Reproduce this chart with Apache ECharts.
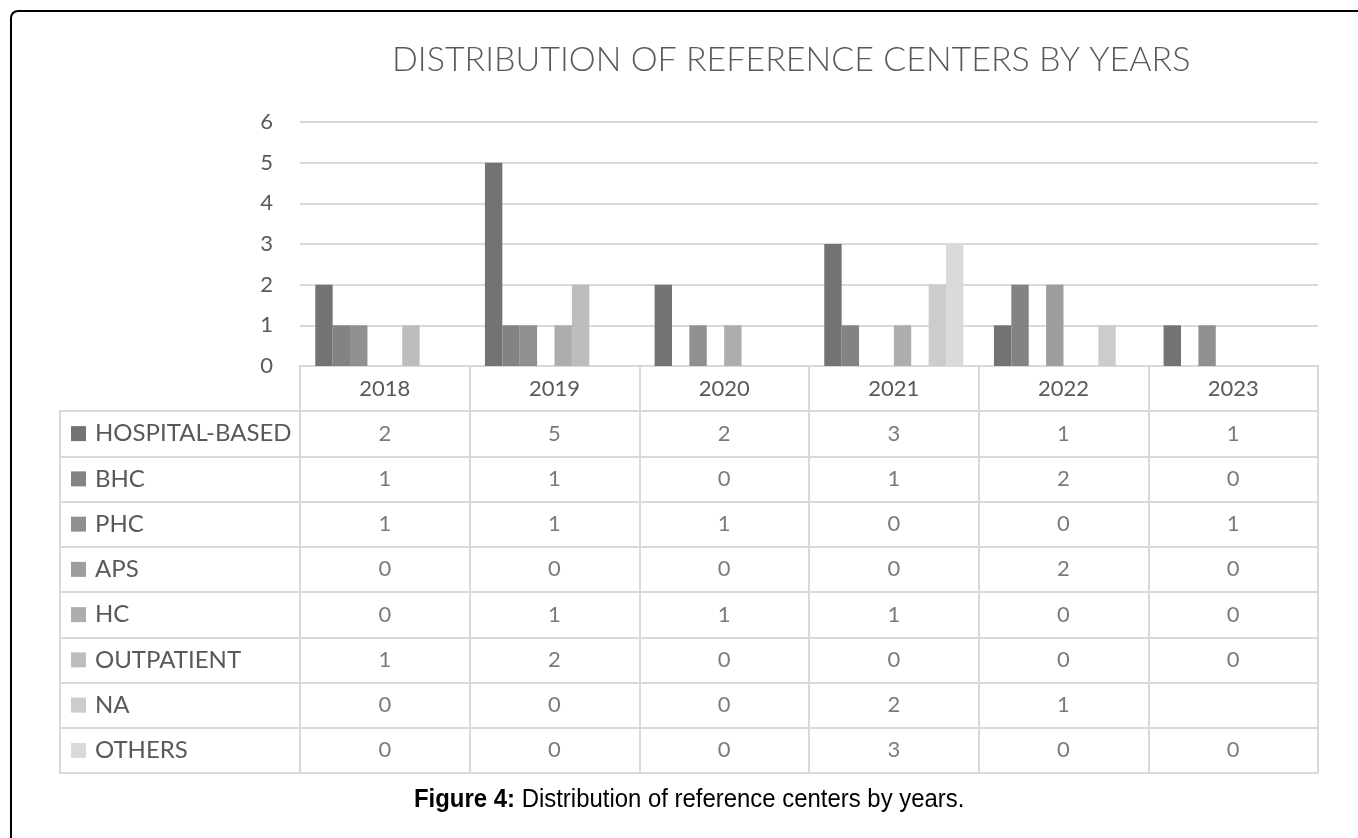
<!DOCTYPE html>
<html>
<head>
<meta charset="utf-8">
<title>Distribution of reference centers by years</title>
<script src="https://cdn.jsdelivr.net/npm/echarts@6/dist/echarts.min.js"></script>
<style>
  html, body { margin: 0; padding: 0; background: #fff; overflow: hidden; }
  #frame {
    position: absolute; left: 10px; top: 10px; width: 1400px; height: 900px;
    border-top: 2px solid #000; border-left: 2px solid #000;
    border-top-left-radius: 8px; box-sizing: border-box;
  }
  #chart { position: absolute; left: 0; top: 0; width: 1358px; height: 838px; }
</style>
</head>
<body>
<div id="frame"></div>
<div id="chart"></div>
<script>
// ---- data ----
var years = ['2018', '2019', '2020', '2021', '2022', '2023'];
var seriesNames = ['HOSPITAL-BASED', 'BHC', 'PHC', 'APS', 'HC', 'OUTPATIENT', 'NA', 'OTHERS'];
var hospitalBased = [2, 5, 2, 3, 1, 1];
var bhc = [1, 1, 0, 1, 2, 0];
var phc = [1, 1, 1, 0, 0, 1];
var aps = [0, 0, 0, 0, 2, 0];
var hc = [0, 1, 1, 1, 0, 0];
var outpatient = [1, 2, 0, 0, 0, 0];
var na = [0, 0, 0, 2, 1, null];
var others = [0, 0, 0, 3, 0, 0];
var yTicks = [0, 1, 2, 3, 4, 5, 6];

var seriesValues = [hospitalBased, bhc, phc, aps, hc, outpatient, na, others];
var colors = ['#737373', '#838383', '#909090', '#9e9e9e', '#adadad', '#bdbdbd', '#cccccc', '#dadada'];

var gridColor = '#d9d9d9';
var textColor = '#595959';
var font = 'Lato, "Open Sans", sans-serif';
var captionFont = '"Liberation Sans", Arial, sans-serif';

// 图例小方块（表格行标题）
var rich = { t: { fontSize: 24, color: textColor, fontFamily: font, padding: [0, 0, 0, 9] } };
colors.forEach(function (c, i) {
    rich['s' + i] = { width: 15, height: 15, backgroundColor: c };
});

// 柱状系列
var series = seriesNames.map(function (name, i) {
    return {
        name: name,
        type: 'bar',
        xAxisIndex: 0,
        yAxisIndex: 0,
        barGap: '0%',
        barCategoryGap: '18%',
        itemStyle: { color: colors[i] },
        data: seriesValues[i]
    };
});

// 数据表格文字
var tableData = [];
seriesValues.forEach(function (vals, r) {
    vals.forEach(function (v, c) {
        if (v !== null) tableData.push([years[c], seriesNames[r], v]);
    });
});
series.push({
    type: 'scatter',
    xAxisIndex: 1,
    yAxisIndex: 1,
    symbolSize: 0,
    silent: true,
    label: {
        show: true,
        position: 'inside',
        fontSize: 22,
        color: textColor,
        fontFamily: font,
        formatter: function (p) { return String(p.value[2]); }
    },
    data: tableData
});

var chart = echarts.init(document.getElementById('chart'));
chart.setOption({
    animation: false,
    backgroundColor: 'transparent',
    title: {
        text: 'DISTRIBUTION OF REFERENCE CENTERS BY YEARS',
        left: 387,
        top: 38,
        textStyle: { fontSize: 34, fontWeight: 300, color: textColor, fontFamily: font }
    },
    // 图注（窄体字，用横向缩放模拟）
    graphic: [{
        type: 'text',
        left: 414,
        top: 787,
        scaleX: 0.92,
        style: {
            text: '{b|Figure 4:}{n| Distribution of reference centers by years.}',
            rich: {
                b: { fontSize: 26, fontWeight: 'bold', fill: '#000', fontFamily: captionFont },
                n: { fontSize: 26, fontWeight: 'normal', fill: '#000', fontFamily: captionFont }
            }
        }
    }],
    grid: [
        { left: 300, right: 40, top: 122, height: 244 },
        { left: 300, right: 40, top: 411, height: 362 }
    ],
    xAxis: [{
        type: 'category',
        gridIndex: 0,
        data: years,
        axisLine: { show: true, lineStyle: { color: gridColor, width: 2 } },
        axisTick: { show: true, interval: 0, length: 45, lineStyle: { color: gridColor, width: 2 } },
        axisLabel: { margin: 12, fontSize: 22, color: textColor, fontFamily: font },
        splitLine: { show: false }
    }, {
        type: 'category',
        gridIndex: 1,
        data: years,
        position: 'top',
        axisLine: { show: true, lineStyle: { color: gridColor, width: 2 } },
        axisTick: { show: false },
        axisLabel: { show: false },
        splitLine: { show: true, interval: 0, lineStyle: { color: gridColor, width: 2 } }
    }],
    yAxis: [{
        type: 'value',
        gridIndex: 0,
        min: yTicks[0],
        max: yTicks[yTicks.length - 1],
        interval: 1,
        axisLine: { show: false },
        axisTick: { show: false },
        axisLabel: { margin: 27, fontSize: 22, color: textColor, fontFamily: font },
        splitLine: { show: true, lineStyle: { color: gridColor, width: 2 } }
    }, {
        type: 'category',
        gridIndex: 1,
        data: seriesNames,
        inverse: true,
        axisLine: { show: false },
        axisTick: { show: true, interval: 0, length: 240, lineStyle: { color: gridColor, width: 2 } },
        axisLabel: {
            align: 'left',
            margin: 229,
            formatter: function (v, i) { return '{s' + i + '|}{t|' + v + '}'; },
            rich: rich
        },
        splitLine: { show: true, interval: 0, lineStyle: { color: gridColor, width: 2 } }
    }, {
        type: 'category',
        gridIndex: 1,
        data: seriesNames,
        position: 'left',
        offset: 240,
        axisLine: { show: true, lineStyle: { color: gridColor, width: 2 } },
        axisTick: { show: false },
        axisLabel: { show: false },
        splitLine: { show: false }
    }],
    series: series
});
</script>
</body>
</html>
